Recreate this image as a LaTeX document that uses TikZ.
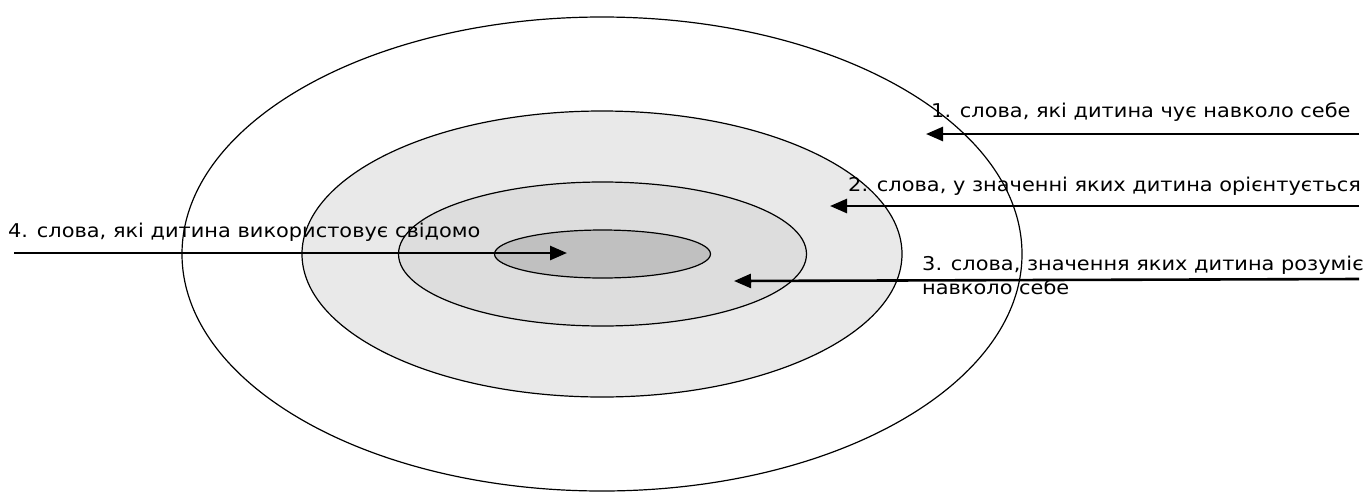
\documentclass[tikz,border=0pt]{standalone}
\usepackage{fontspec}
\setmainfont{DejaVu Sans}
\newfontfamily\lblfont[FakeStretch=1.1]{DejaVu Sans}
\usetikzlibrary{arrows.meta}
\definecolor{ringB}{HTML}{E9E9E9}
\definecolor{ringC}{HTML}{DDDDDD}
\definecolor{ringD}{HTML}{C0C0C0}
\tikzset{
  ring/.style={draw=black, line width=1.2pt},
  lbl/.style={anchor=base west, inner sep=0pt, font=\lblfont\fontsize{19}{24}\selectfont},
  arr/.style={line width=2.6pt, -{Triangle[length=17pt,width=14pt]}}
}
\begin{document}
\begin{tikzpicture}[x=1pt,y=-1pt]
\useasboundingbox (0,0) rectangle (1369,491);
% rings
\draw[ring, fill=white] (602,254) ellipse [x radius=420, y radius=237];
\draw[ring, fill=ringB] (602,254) ellipse [x radius=300, y radius=143];
\draw[ring, fill=ringC] (602.5,254) ellipse [x radius=204, y radius=72];
\draw[ring, fill=ringD] (602.5,254) ellipse [x radius=108, y radius=24];
% labels
\node[lbl] (t1) at (931,117) {1. слова, які дитина чує навколо себе};
\node[lbl] (t2) at (848,191) {2. слова, у значенні яких дитина орієнтується};
\node[lbl] (t3) at (922,270) {3. слова, значення яких дитина розуміє};
\node[lbl] (t3b) at (922,294) {навколо себе};
\node[lbl] (t4) at (8,237) {4. слова, які дитина використовує свідомо};
% arrow endpoints
\coordinate (s1) at (1359,134);
\coordinate (e1) at (926,134);
\coordinate (s2) at (1359,206);
\coordinate (e2) at (830,206);
\coordinate (s3) at (1359,279);
\coordinate (e3) at (734,281);
\coordinate (s4) at (14,253);
\coordinate (e4) at (567,253);
\draw[arr] (s1) -- (e1);
\draw[arr] (s2) -- (e2);
\draw[arr] (s3) -- (e3);
\draw[arr] (s4) -- (e4);
\end{tikzpicture}
\end{document}
